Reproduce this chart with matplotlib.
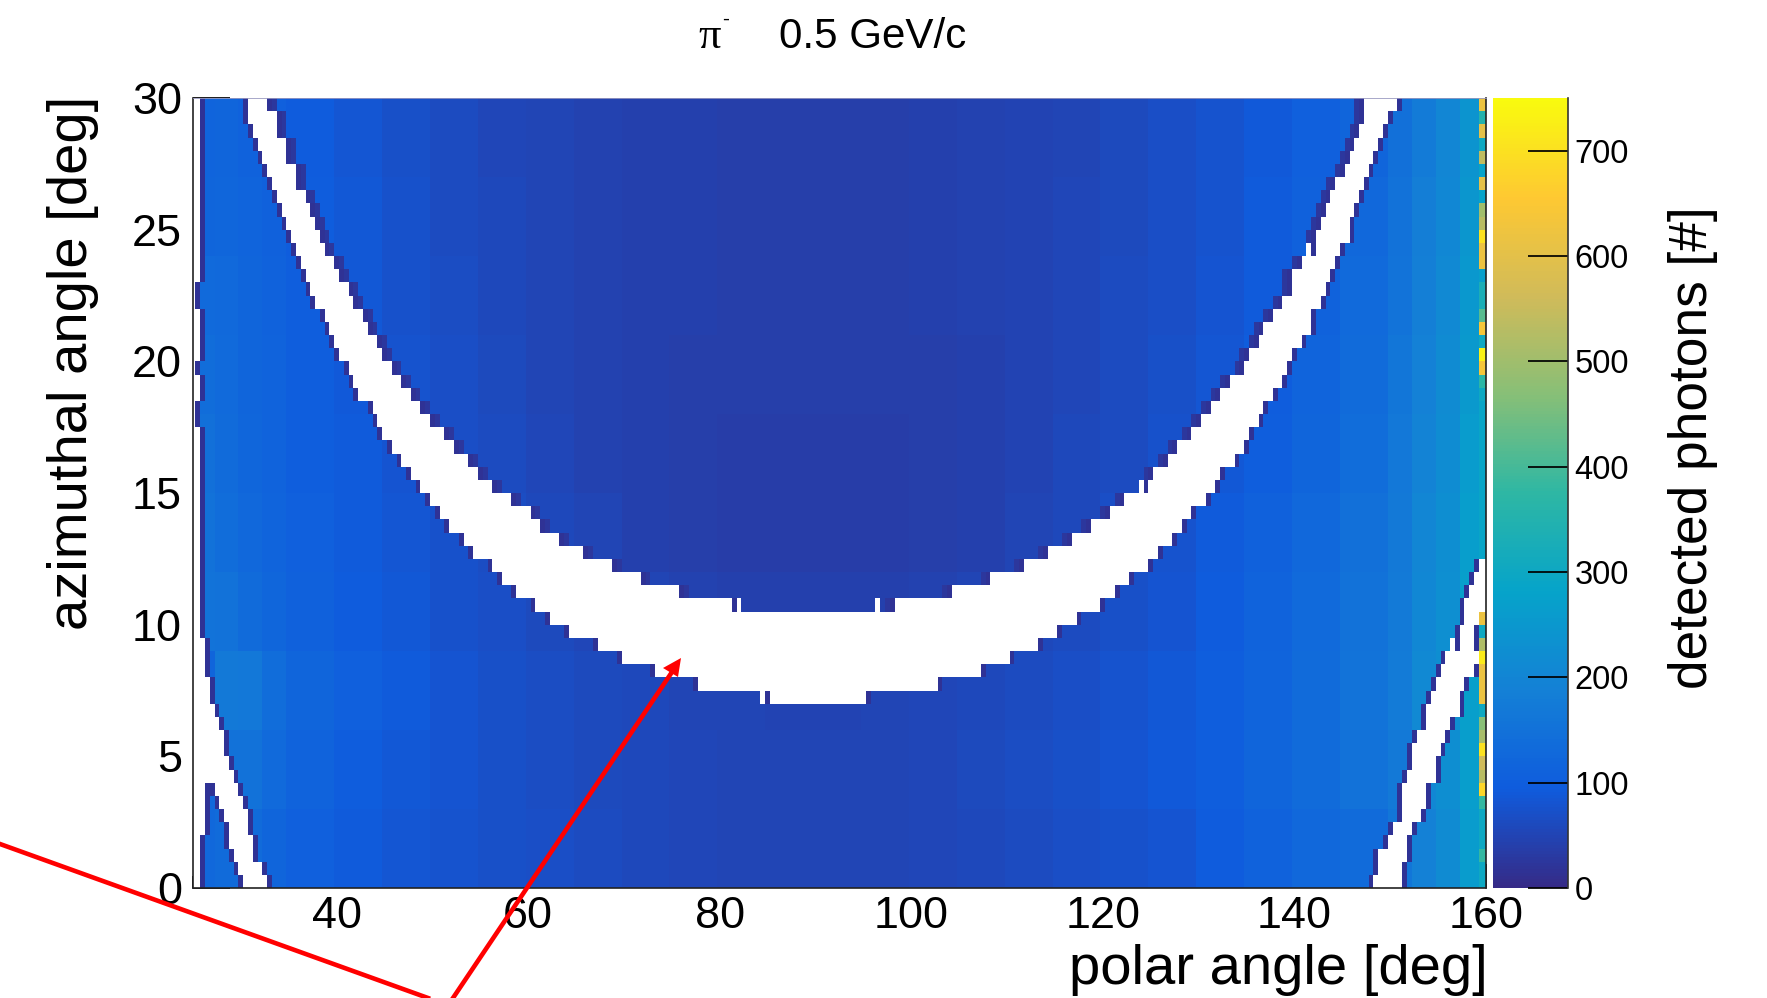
import matplotlib
matplotlib.use('Agg')
import matplotlib.pyplot as plt
import numpy as np
from matplotlib.colors import LinearSegmentedColormap
from matplotlib.lines import Line2D
from matplotlib.patches import Polygon
from matplotlib.ticker import MultipleLocator

W, H = 1767, 998

# Coarse photon counts, rows from the top (27-30 deg) down to (0-3 deg)
polar_edges = [25, 27.5, 30, 32.5, 35, 40, 45, 50, 55, 60, 65, 70, 75, 80, 85, 90, 95, 100,
               105, 110, 115, 120, 125, 130, 135, 140, 145, 150, 152.5, 155, 157.5, 160]
counts = [
    [115, 118, 110, 105, 95, 85, 72, 62, 55, 50, 46, 44, 42, 40, 40, 40, 40, 42, 45, 48, 52, 60, 68, 78, 90, 105, 120, 145, 175, 200, 240],
    [120, 122, 115, 108, 98, 86, 74, 64, 56, 50, 46, 44, 42, 40, 40, 40, 40, 42, 45, 48, 53, 60, 68, 78, 92, 108, 125, 150, 180, 205, 245],
    [130, 128, 120, 110, 100, 88, 76, 66, 58, 51, 46, 44, 42, 40, 40, 40, 40, 42, 45, 49, 54, 62, 70, 80, 94, 110, 130, 155, 185, 210, 250],
    [140, 130, 120, 112, 100, 90, 78, 68, 60, 52, 46, 43, 41, 40, 40, 40, 40, 41, 44, 48, 55, 62, 72, 84, 98, 115, 135, 160, 190, 215, 255],
    [145, 135, 122, 112, 102, 92, 80, 70, 62, 54, 46, 42, 40, 38, 38, 38, 38, 40, 43, 48, 56, 64, 74, 88, 102, 120, 140, 165, 195, 220, 260],
    [150, 140, 125, 115, 104, 94, 84, 74, 65, 56, 50, 44, 40, 38, 38, 38, 38, 40, 44, 50, 58, 68, 78, 92, 108, 125, 145, 170, 200, 225, 265],
    [155, 150, 135, 122, 108, 96, 86, 76, 68, 60, 54, 50, 46, 44, 44, 44, 44, 46, 50, 56, 64, 72, 82, 96, 112, 130, 150, 172, 205, 228, 270],
    [120, 170, 165, 140, 120, 105, 92, 82, 72, 65, 60, 56, 52, 50, 48, 48, 50, 54, 58, 63, 70, 78, 88, 100, 115, 135, 155, 175, 210, 225, 270],
    [125, 150, 150, 130, 112, 98, 88, 80, 72, 66, 60, 56, 54, 52, 50, 50, 52, 55, 60, 65, 72, 80, 90, 102, 118, 135, 150, 170, 205, 225, 265],
    [125, 135, 135, 120, 105, 92, 85, 78, 72, 68, 62, 58, 55, 52, 50, 50, 52, 55, 58, 62, 68, 75, 82, 95, 110, 125, 135, 160, 190, 215, 260],
]

# Last polar column, one value per azimuth row from the top
last_column = [620, 350, 600, 300, 540, 280, 600, 280, 500, 530, 700, 620, 620, 270, 330, 330,
               420, 640, 300, 730, 640, 370, 300, 290, 290, 290, 290, 290, 290, 290, 290, 290,
               290, 290, 290, 290, 290, 290, 290, 620, 300, 520, 720, 620, 620, 620, 300, 470,
               510, 700, 560, 530, 680, 380, 300, 300, 300, 380, 300, 300]
rim_value = 15
rim_inner_value = 26

# Empty band, edges per azimuth row from the top (row 0 = 29.5-30 deg)
left_arc_lo = [30.75, 30.75, 31.25, 31.75, 32.25, 32.75, 33.25, 33.75, 34.25, 34.75, 35.25, 35.75,
               36.25, 36.75, 37.25, 37.75, 38.75, 39.25, 39.75, 40.25, 41.25, 41.75, 42.25, 43.75,
               44.25, 44.75, 45.75, 46.75, 47.75, 48.75, 49.75, 50.75, 51.75, 53.25, 54.25, 56.25,
               57.25, 58.75, 60.75]
left_arc_hi = [32.75, 33.75, 33.75, 34.75, 34.75, 35.75, 35.75, 36.75, 37.25, 37.75, 38.25, 38.75,
               39.75, 40.25, 41.25, 41.75, 42.75, 43.25, 44.25, 44.75, 45.75, 46.75, 47.75, 48.75,
               49.75, 51.25, 52.25, 53.75, 54.75, 56.25, 58.25, 60.25, 61.25, 63.25, 65.75, 68.75,
               71.75, 75.75, 81.25]
right_arc_lo = [147.25, 147.25, 146.75, 146.25, 145.75, 145.25, 144.25, 143.75, 143.25, 142.75,
                142.25, 142.25, 140.75, 139.75, 139.75, 138.75, 137.75, 136.75, 136.25, 135.25,
                134.75, 133.25, 132.25, 131.25, 130.25, 129.25, 127.75, 126.75, 125.25, 124.75,
                122.25, 120.75, 118.75, 116.75, 114.25, 111.75, 108.25, 104.25, 98.25]
right_arc_hi = [150.75, 149.75, 149.25, 148.75, 148.25, 147.75, 147.25, 146.75, 146.25, 145.75,
                145.75, 144.75, 144.25, 143.75, 143.25, 142.75, 141.75, 141.75, 140.75, 139.75,
                139.25, 138.75, 137.75, 136.75, 136.25, 135.25, 134.75, 133.75, 132.25, 131.75,
                130.75, 129.25, 128.25, 127.25, 125.75, 124.75, 122.75, 121.25, 119.75]
centre_lo = [62.25, 64.25, 67.25, 69.75, 73.25, 77.75, 85.25]       # rows 39-45
centre_hi = [117.25, 115.25, 113.25, 110.25, 107.25, 102.75, 95.25]
outer_strip_hi = [25.75] * 14 + [25.25, 25.25] + [25.75] * 4 + [25.25] + [25.75] * 2 + [25.25, 25.25] \
    + [25.75] * 16 + [26.25, 26.25, 26.25, 26.75, 26.75, 27.25, 27.75, 28.25, 28.25, 28.75, 29.25] \
    + [26.25, 26.25, 26.25, 26.25, 25.75, 25.75, 25.75, 25.75]        # rows 0-59
low_left_lo = [27.25, 27.75, 28.25, 28.75, 28.75, 29.25, 29.75, 30.25]     # rows 52-59
low_left_hi = [29.75, 30.25, 30.75, 30.75, 31.25, 31.25, 32.25, 32.75]
low_right_lo = [159.25, 158.75, 158.25, 157.75, 157.75, 157.25, 157.25, 155.75, 155.25, 154.75, 154.25,
                153.75, 153.75, 152.75, 152.25, 152.25, 151.75, 151.25, 151.25, 151.25, 150.25, 149.75,
                148.75, 148.75, 148.25]     # rows 35-59
low_right_hi = [160.25, 160.25, 160.25, 160.25, 159.25, 158.75, 158.75, 159.25, 158.75, 157.75, 157.25,
                157.25, 156.25, 155.75, 155.25, 154.75, 154.75, 153.75, 153.75, 153.25, 152.25, 151.75,
                151.75, 151.25, 151.25]
# (row, lo, hi) of single filled bins standing inside the band edge
slits = [(38, 81.75, 82.25), (38, 96.25, 96.75), (45, 84.25, 84.75), (29, 123.75, 124.25),
         (11, 141.25, 141.75), (41, 156.25, 156.75)]

# ROOT kBird palette
bird_r = [0.2082, 0.0592, 0.0780, 0.0232, 0.1802, 0.5301, 0.8186, 0.9956, 0.9764]
bird_g = [0.1664, 0.3599, 0.5041, 0.6419, 0.7178, 0.7492, 0.7328, 0.7862, 0.9832]
bird_b = [0.5293, 0.8684, 0.8385, 0.7914, 0.6425, 0.4662, 0.3499, 0.1968, 0.0539]


def px(x, y):
    return x / W, 1 - y / H


plt.rcParams['font.family'] = ['Liberation Sans', 'DejaVu Sans']

x_edges = np.arange(24.75, 160.3, 0.5)
y_edges = np.arange(0, 30.1, 0.5)
x_mid = (x_edges[:-1] + x_edges[1:]) / 2

# counts per bin, row 0 at the top of the plot
col_idx = np.clip(np.searchsorted(polar_edges, x_mid, side='right') - 1, 0, len(polar_edges) - 2)
counts = np.array(counts, dtype=float)
grid = np.repeat(counts, 6, axis=0)[:, col_idx]

gaps = [[] for _ in range(60)]
for k in range(39):
    gaps[k].append((left_arc_lo[k], left_arc_hi[k]))
    gaps[k].append((right_arc_lo[k], right_arc_hi[k]))
    # the rim is wider on the inner side of the arc
    grid[k, np.searchsorted(x_edges, left_arc_hi[k]) + 1] = rim_inner_value
    grid[k, np.searchsorted(x_edges, right_arc_lo[k]) - 2] = rim_inner_value
for k in range(7):
    gaps[39 + k].append((centre_lo[k], centre_hi[k]))
for k in range(60):
    gaps[k].append((24.75, outer_strip_hi[k]))
for k in range(8):
    gaps[52 + k].append((low_left_lo[k], low_left_hi[k]))
for k in range(25):
    gaps[35 + k].append((low_right_lo[k], low_right_hi[k]))

mask = np.zeros(grid.shape, dtype=bool)
for k, row_gaps in enumerate(gaps):
    for lo, hi in row_gaps:
        inside = (x_mid > lo) & (x_mid < hi)
        mask[k, inside] = True
        idx = np.where(inside)[0]
        if len(idx) > 0:
            grid[k, max(idx[0] - 1, 0)] = rim_value
            grid[k, min(idx[-1] + 1, grid.shape[1] - 1)] = rim_value
for k, lo, hi in slits:
    inside = (x_mid > lo) & (x_mid < hi)
    mask[k, inside] = True
grid[:, -2:] = np.array(last_column)[:, None]
grid = np.ma.array(grid, mask=mask)

cmap = LinearSegmentedColormap.from_list('bird', list(zip(bird_r, bird_g, bird_b)), N=255)
cmap.set_bad('white')

fig = plt.figure(figsize=(W / 100, H / 100), dpi=100)
ax = fig.add_axes([193 / W, 1 - 888 / H, 1293 / W, 790 / H])
ax.set_facecolor('white')
mesh = ax.pcolormesh(x_edges, y_edges, grid[::-1], cmap=cmap, vmin=0, vmax=750,
                     shading='flat', antialiased=False, zorder=2)
ax.set_xlim(25, 160)
ax.set_ylim(0, 30)

ax.xaxis.set_major_locator(MultipleLocator(20))
ax.xaxis.set_minor_locator(MultipleLocator(5))
ax.yaxis.set_major_locator(MultipleLocator(5))
ax.yaxis.set_minor_locator(MultipleLocator(1))
ax.tick_params(axis='x', which='major', direction='in', length=17.3, width=1.25, labelsize=32.4, pad=5.5)
ax.tick_params(axis='x', which='minor', direction='in', length=8.6, width=1.25)
ax.tick_params(axis='y', which='major', direction='in', length=26.6, width=1.25, labelsize=32.4, pad=8)
ax.tick_params(axis='y', which='minor', direction='in', length=13.7, width=1.25)
ax.spines['top'].set_color('#9a9ac0')
ax.spines['top'].set_linewidth(0.6)
for side in ['left', 'bottom', 'right']:
    ax.spines[side].set_linewidth(1.2)
    ax.spines[side].set_color('#222222')

cax = fig.add_axes([1493.3 / W, 1 - 888 / H, 74.4 / W, 790 / H])
cb = fig.colorbar(mesh, cax=cax)
cb.outline.set_visible(False)
cax.spines['right'].set_visible(True)
cax.spines['right'].set_linewidth(1.2)
cax.spines['right'].set_color('#333333')
cb.set_ticks(np.arange(0, 701, 100))
cax.tick_params(axis='y', which='major', direction='in', length=29, width=1.25, labelsize=23.5, pad=5)
cax.minorticks_off()

# titles and axis names
x, y = px(698, 48)
fig.text(x, y, '\u03c0', family=['Liberation Serif', 'DejaVu Serif'], fontsize=32, ha='left', va='baseline')
x, y = px(722, 25)
fig.text(x, y, '-', fontsize=15, ha='left', va='baseline')
x, y = px(779, 48)
fig.text(x, y, '0.5 GeV/c', fontsize=30.3, ha='left', va='baseline')
x, y = px(1488, 984)
fig.text(x, y, 'polar angle [deg]', fontsize=40.5, ha='right', va='baseline')
x, y = px(87, 96)
fig.text(x, y, 'azimuthal angle [deg]', fontsize=40.5, rotation=90, ha='right', va='baseline',
         rotation_mode='anchor')
x, y = px(1707, 206)
fig.text(x, y, 'detected photons [#]', fontsize=38.3, rotation=90, ha='right', va='baseline',
         rotation_mode='anchor')

# red annotation lines pasted over the plot
fig.add_artist(Line2D([0, 428 / W], [1 - 844 / H, 1 - 998 / H], color='#ff0000', lw=3.3, transform=fig.transFigure))
fig.add_artist(Line2D([453 / W, 672 / W], [1 - 998 / H, 1 - 672 / H], color='#ff0000', lw=3.3, transform=fig.transFigure))
head = [px(681, 658), px(663, 668), px(678, 677)]
fig.add_artist(Polygon(head, closed=True, color='#ff0000', lw=0, transform=fig.transFigure))

fig.savefig('out.png', dpi=100)
